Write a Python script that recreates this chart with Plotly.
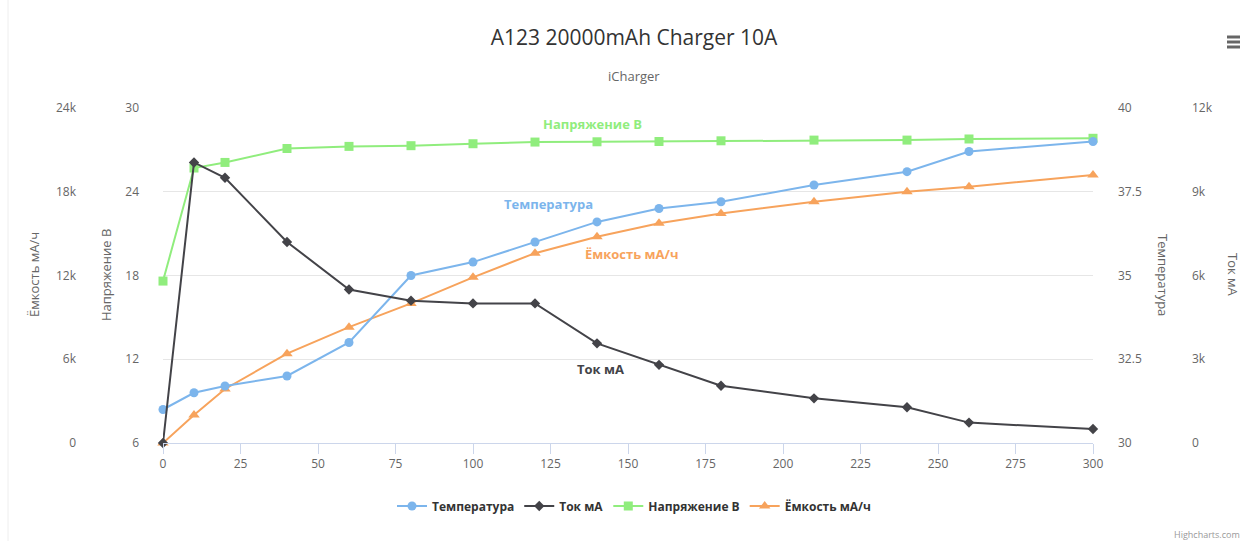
import plotly.graph_objects as go

W, H = 1242, 541

# time, minutes
minutes = [0, 10, 20, 40, 60, 80, 100, 120, 140, 160, 180, 210, 240, 260, 300]

temperature = [31.0, 31.5, 31.7, 32.0, 33.0, 35.0, 35.4, 36.0, 36.6, 37.0, 37.2, 37.7, 38.1, 38.7, 39.0]
current_ma = [0, 10050, 9500, 7200, 5500, 5100, 5000, 5000, 3570, 2800, 2050, 1600, 1280, 730, 500]
voltage = [17.6, 25.7, 26.1, 27.1, 27.25, 27.3, 27.44, 27.56, 27.58, 27.6, 27.65, 27.7, 27.7, 27.78, 27.83]
capacity = [0, 2000, 3870, 6400, 8300, 10000, 11870, 13600, 14780, 15740, 16450, 17290, 18000, 18360, 19200]

names = ["Температура", "Ток мА", "Напряжение В", "Ёмкость мА/ч"]
colors = ["#7cb5ec", "#434348", "#90ed7d", "#f7a35c"]

FONT = "Open Sans, Noto Sans, sans-serif"
GRID = "#e6e6e6"
TICK = "#666666"

fig = go.Figure()

fig.add_trace(go.Scatter(
    x=minutes, y=temperature, name=names[0], yaxis="y3",
    mode="lines+markers", line=dict(color=colors[0], width=2),
    marker=dict(symbol="circle", size=9, color=colors[0]), cliponaxis=False,
))
fig.add_trace(go.Scatter(
    x=minutes, y=current_ma, name=names[1], yaxis="y4",
    mode="lines+markers", line=dict(color=colors[1], width=2),
    marker=dict(symbol="diamond", size=8, color=colors[1]), cliponaxis=False,
))
fig.add_trace(go.Scatter(
    x=minutes, y=voltage, name=names[2], yaxis="y",
    mode="lines+markers", line=dict(color=colors[2], width=2),
    marker=dict(symbol="square", size=9, color=colors[2]), cliponaxis=False,
))
fig.add_trace(go.Scatter(
    x=minutes, y=capacity, name=names[3], yaxis="y2",
    mode="lines+markers", line=dict(color=colors[3], width=2),
    marker=dict(symbol="triangle-up", size=10, color=colors[3]), cliponaxis=False,
))

x0, x1 = 163 / W, 1093 / W
ydom = [98 / H, 433 / H]
tickfont = dict(family=FONT, size=12, color=TICK)

fig.update_layout(
    template="none",
    width=W, height=H,
    margin=dict(l=0, r=0, t=0, b=0, pad=0),
    paper_bgcolor="white", plot_bgcolor="white",
    font=dict(family=FONT, color="#333333"),
    title=dict(
        text="A123 20000mAh Charger 10A",
        x=634 / W, xanchor="center", y=1 - 38 / H, yanchor="middle",
        font=dict(size=21, color="#333333", family=FONT),
    ),
    showlegend=True,
    legend=dict(
        orientation="h", x=634 / W, xanchor="center", y=1 - 506 / H, yanchor="middle",
        font=dict(size=12, color="#333333", family=FONT, weight="bold"),
        itemwidth=30, bgcolor="rgba(0,0,0,0)",
    ),
    xaxis=dict(
        domain=[x0, x1], range=[0, 300], tick0=0, dtick=25, automargin=False,
        showgrid=False, zeroline=False,
        showline=True, linecolor="#ccd6eb", linewidth=1,
        ticks="outside", ticklen=10, tickcolor="#ccd6eb",
        tickfont=tickfont,
    ),
    yaxis=dict(
        domain=ydom, range=[6, 30], tick0=6, dtick=6, automargin=False,
        showgrid=True, gridcolor=GRID, zeroline=False, showline=False,
        ticks="", ticklabelstandoff=23, tickfont=tickfont,
    ),
    yaxis2=dict(
        overlaying="y", anchor="free", side="left", position=76 / W,
        range=[0, 24000], tick0=0, dtick=6000, tickformat="~s", automargin=False,
        showgrid=False, zeroline=False, showline=False, ticks="",
        tickfont=tickfont,
    ),
    yaxis3=dict(
        overlaying="y", anchor="x", side="right", automargin=False,
        range=[30, 40], tick0=30, dtick=2.5,
        showgrid=False, zeroline=False, showline=False,
        ticks="", ticklabelstandoff=24, tickfont=tickfont,
    ),
    yaxis4=dict(
        overlaying="y", anchor="free", side="right", position=1191 / W,
        range=[0, 12000], tick0=0, dtick=3000, tickformat="~s", automargin=False,
        showgrid=False, zeroline=False, showline=False, ticks="",
        tickfont=tickfont,
    ),
)

# subtitle
fig.add_annotation(
    text="iCharger", xref="paper", yref="paper", x=634 / W, y=1 - 76 / H,
    xanchor="center", yanchor="middle", showarrow=False,
    font=dict(family=FONT, size=13, color="#666666"),
)

# axis titles
axis_titles = [
    ("Ёмкость мА/ч", 34, -90),
    ("Напряжение В", 106, -90),
    ("Температура", 1163, 90),
    ("Ток мА", 1233, 90),
]
for text, px, ang in axis_titles:
    fig.add_annotation(
        text=text, xref="paper", yref="paper", x=px / W, y=1 - 275 / H,
        xanchor="center", yanchor="middle", textangle=ang, showarrow=False,
        font=dict(family=FONT, size=13, color=TICK),
    )

# series labels placed inside the plot
series_labels = [
    (names[2], 138.4, 28.85, "y", colors[2]),
    (names[0], 124.2, 37.13, "y3", colors[0]),
    (names[3], 151.0, 13540, "y2", colors[3]),
    (names[1], 141.0, 2650, "y4", colors[1]),
]
for text, lx, ly, yref, col in series_labels:
    fig.add_annotation(
        text=text, x=lx, y=ly, xref="x", yref=yref, showarrow=False,
        font=dict(family=FONT, size=13, color=col, weight="bold"),
    )

# credits and menu button
fig.add_annotation(
    text="Highcharts.com", xref="paper", yref="paper", x=1, y=1 - 534 / H,
    xanchor="right", yanchor="middle", showarrow=False,
    font=dict(family=FONT, size=9, color="#999999"),
)
for py in (37, 42, 47):
    fig.add_shape(
        type="line", xref="paper", yref="paper",
        x0=1227 / W, x1=1240 / W, y0=1 - py / H, y1=1 - py / H,
        line=dict(color="#666666", width=3),
    )
fig.add_shape(
    type="line", xref="paper", yref="paper", x0=8 / W, x1=8 / W, y0=0, y1=1,
    line=dict(color="#eeeeee", width=1),
)

# the page body has a default 8px margin; drop it so the figure fills the window
fig.write_html(
    "out.html",
    config={"displayModeBar": False},
    post_script="document.body.style.margin='0';",
)
